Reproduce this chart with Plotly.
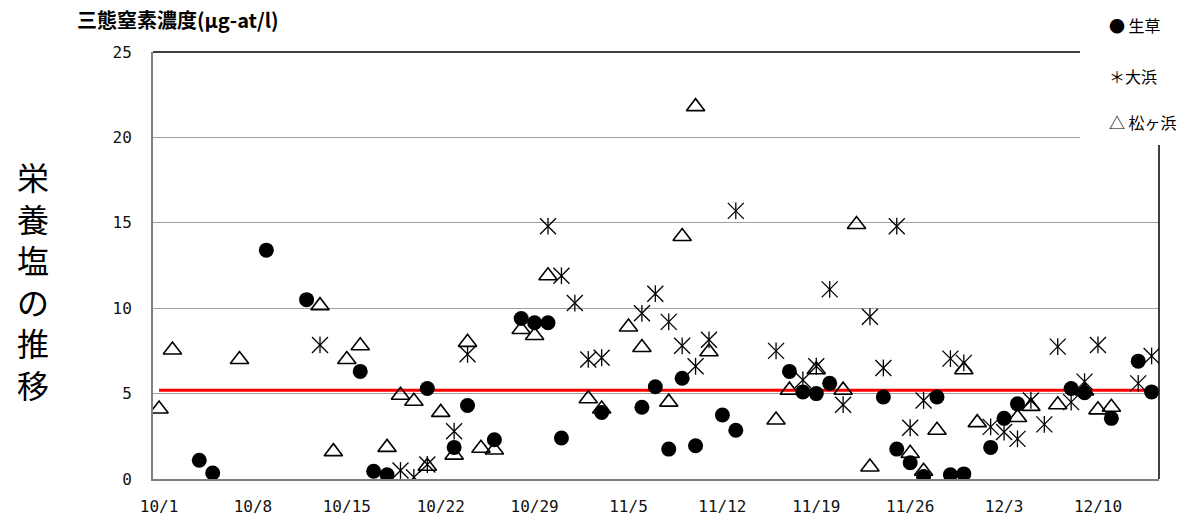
import pandas as pd
import plotly.graph_objects as go

YEAR = 2008

# 生草 (circles)
namakusa_dates = ["10/4", "10/5", "10/9", "10/12", "10/16", "10/17", "10/18", "10/21", "10/23", "10/24",
                  "10/26", "10/28", "10/29", "10/30", "10/31", "11/3", "11/6", "11/7", "11/8", "11/9",
                  "11/10", "11/12", "11/13", "11/17", "11/18", "11/19", "11/20", "11/24", "11/25", "11/26",
                  "11/27", "11/28", "11/29", "11/30", "12/2", "12/3", "12/4", "12/8", "12/9", "12/11",
                  "12/13", "12/14"]
namakusa_vals = [1.1, 0.35, 13.4, 10.5, 6.3, 0.45, 0.25, 5.3, 1.85, 4.3,
                 2.3, 9.4, 9.15, 9.15, 2.4, 3.9, 4.2, 5.4, 1.75, 5.9,
                 1.95, 3.75, 2.85, 6.3, 5.1, 5.0, 5.6, 4.8, 1.75, 0.95,
                 0.15, 4.8, 0.25, 0.3, 1.85, 3.55, 4.4, 5.3, 5.05, 3.55,
                 6.9, 5.1]

# 大浜 (asterisks)
ohama_dates = ["10/13", "10/19", "10/20", "10/21", "10/23", "10/24", "10/30", "10/31", "11/1", "11/2",
               "11/3", "11/6", "11/7", "11/8", "11/9", "11/10", "11/11", "11/13", "11/16", "11/18",
               "11/19", "11/20", "11/21", "11/23", "11/24", "11/25", "11/26", "11/27", "11/29", "11/30",
               "12/2", "12/3", "12/4", "12/5", "12/6", "12/7", "12/8", "12/9", "12/10", "12/13",
               "12/14"]
ohama_vals = [7.85, 0.5, 0.1, 0.85, 2.8, 7.3, 14.8, 11.9, 10.3, 7.0,
              7.1, 9.7, 10.85, 9.2, 7.8, 6.6, 8.15, 15.7, 7.5, 5.8,
              6.6, 11.1, 4.35, 9.5, 6.5, 14.8, 3.0, 4.6, 7.05, 6.8,
              3.05, 2.75, 2.35, 4.6, 3.2, 7.75, 4.5, 5.7, 7.85, 5.6,
              7.2]

# 松ヶ浜 (triangles)
matsu_dates = ["10/1", "10/2", "10/7", "10/13", "10/14", "10/15", "10/16", "10/18", "10/19", "10/20",
               "10/21", "10/22", "10/23", "10/24", "10/25", "10/26", "10/28", "10/29", "10/30", "11/2",
               "11/3", "11/5", "11/6", "11/8", "11/9", "11/10", "11/11", "11/16", "11/17", "11/19",
               "11/21", "11/22", "11/23", "11/26", "11/27", "11/28", "11/30", "12/1", "12/4", "12/5",
               "12/7", "12/9", "12/10", "12/11"]
matsu_vals = [4.1, 7.55, 7.0, 10.15, 1.6, 7.0, 7.8, 1.85, 4.9, 4.55,
              0.75, 3.9, 1.4, 8.0, 1.8, 1.7, 8.75, 8.4, 11.9, 4.7,
              4.1, 8.9, 7.7, 4.5, 14.2, 21.8, 7.45, 3.45, 5.2, 6.4,
              5.2, 14.9, 0.7, 1.5, 0.45, 2.85, 6.4, 3.3, 3.6, 4.25,
              4.35, 5.15, 4.05, 4.2]

# mean line
mean_dates = ["10/1", "12/14"]
mean_vals = [5.2, 5.2]

y_ticks = [0, 5, 10, 15, 20, 25]


def to_dt(labels):
    return pd.to_datetime([f"{YEAR}/{s}" for s in labels], format="%Y/%m/%d")


FONT = "Noto Sans CJK JP"
MONO = "DejaVu Sans Mono"

fig = go.Figure()

fig.add_trace(go.Scatter(
    x=to_dt(mean_dates), y=mean_vals, mode="lines",
    line=dict(color="#ff0000", width=3), showlegend=False, hoverinfo="skip"))

fig.add_trace(go.Scatter(
    x=to_dt(namakusa_dates), y=namakusa_vals, mode="markers", name="生草",
    marker=dict(symbol="circle", size=15, color="black"), showlegend=False))

fig.add_trace(go.Scatter(
    x=to_dt(ohama_dates), y=ohama_vals, mode="markers", name="大浜",
    marker=dict(symbol="x-thin-open", size=16, color="black",
                line=dict(color="black", width=1.3)), showlegend=False))
fig.add_trace(go.Scatter(
    x=to_dt(ohama_dates), y=ohama_vals, mode="markers", name="大浜",
    marker=dict(symbol="line-ns-open", size=12, color="black",
                line=dict(color="black", width=1.3)), showlegend=False, hoverinfo="skip"))

fig.add_trace(go.Scatter(
    x=to_dt(matsu_dates), y=matsu_vals, mode="markers", name="松ヶ浜",
    marker=dict(symbol="triangle-up-open", size=16, color="black",
                line=dict(color="black", width=1.6)), showlegend=False))

x_start = pd.Timestamp(f"{YEAR}-10-01") - pd.Timedelta(hours=0.45 * 24)
x_end = pd.Timestamp(f"{YEAR}-12-14") + pd.Timedelta(hours=0.55 * 24)

fig.update_layout(
    width=1182, height=520,
    margin=dict(l=153, r=23, t=52, b=41, autoexpand=False),
    paper_bgcolor="white", plot_bgcolor="white",
    font=dict(family=FONT, color="black"),
    xaxis=dict(
        type="date", range=[x_start, x_end], automargin=False,
        tick0=f"{YEAR}-10-01", dtick=7 * 86400000, tickformat="%-m/%-d",
        showgrid=False, zeroline=False, ticks="",
        showline=True, linecolor="#808080", linewidth=2,
        tickfont=dict(size=16, family=MONO, color="#111111"),
        ticklabelstandoff=12,
    ),
    yaxis=dict(
        range=[0, 25], tickvals=y_ticks, automargin=False,
        showgrid=True, gridcolor="#a0a0a0", gridwidth=1, zeroline=False, ticks="",
        showline=True, linecolor="#808080", linewidth=2,
        tickfont=dict(size=16, family=MONO, color="#111111"),
        ticklabelstandoff=16,
    ),
    shapes=[
        dict(type="line", xref="paper", yref="paper", x0=0, x1=1, y0=1, y1=1,
             line=dict(color="black", width=1.5), layer="above"),
        dict(type="line", xref="paper", yref="paper", x0=1, x1=1, y0=0, y1=1,
             line=dict(color="black", width=1.5), layer="above"),
        dict(type="rect", xref="paper", yref="paper", x0=0.9215, x1=1.05, y0=0.782, y1=1.2,
             fillcolor="white", line=dict(width=0), layer="above"),
    ],
    annotations=[
        dict(text="<b>三態窒素濃度(μg-at/l)</b>", xref="paper", yref="paper",
             x=-0.0775, y=1.075, xanchor="left", yanchor="middle", showarrow=False,
             font=dict(size=20, family=FONT, color="black")),
        dict(text="栄<br>養<br>塩<br>の<br>推<br>移", xref="paper", yref="paper",
             x=-0.119, y=0.466, xanchor="center", yanchor="middle", showarrow=False,
             font=dict(size=32, family=FONT, color="black")),
        dict(text="● 生草", xref="paper", yref="paper",
             x=0.948, y=1.063, xanchor="left", yanchor="middle", showarrow=False,
             font=dict(size=16, family=FONT, color="black")),
        dict(text="＊大浜", xref="paper", yref="paper",
             x=0.948, y=0.944, xanchor="left", yanchor="middle", showarrow=False,
             font=dict(size=16, family=FONT, color="black")),
        dict(text="△ 松ヶ浜", xref="paper", yref="paper",
             x=0.948, y=0.836, xanchor="left", yanchor="middle", showarrow=False,
             font=dict(size=16, family=FONT, color="black")),
    ],
)

fig.write_html("out.html", config={"displayModeBar": False},
               post_script="document.body.style.margin='0px';")
